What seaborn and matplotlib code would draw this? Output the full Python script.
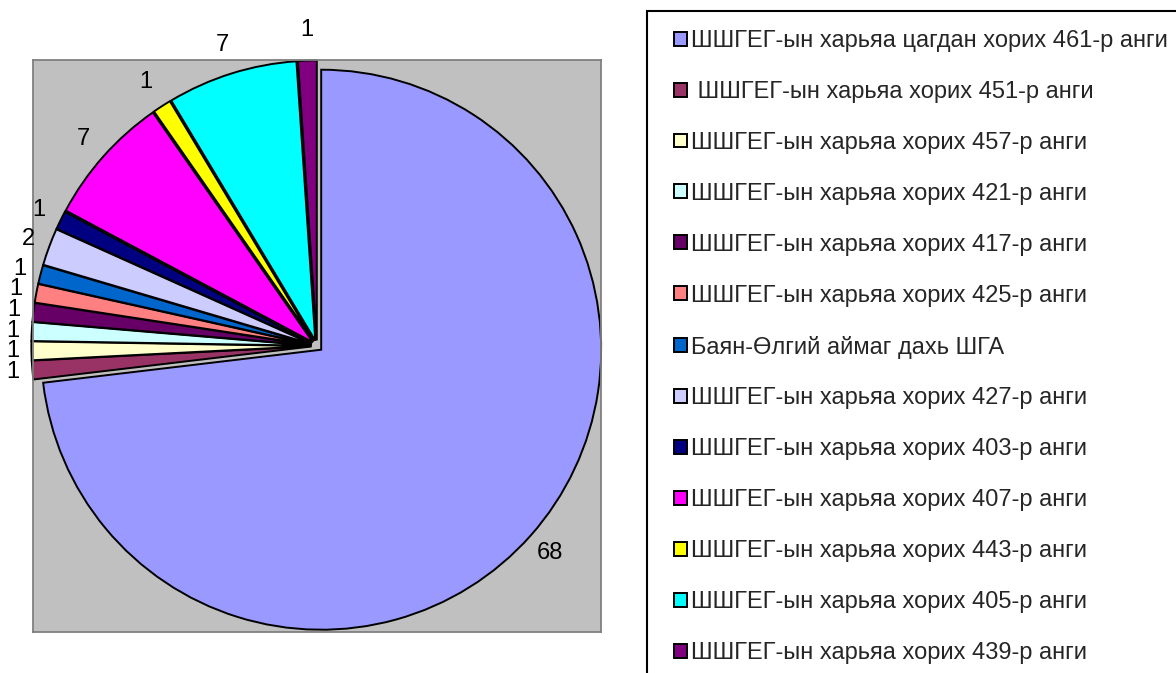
import numpy as np
import pandas as pd
import seaborn as sns
import matplotlib.pyplot as plt
from matplotlib.patches import Rectangle

# Өгөгдөл
labels = [
    "ШШГЕГ-ын харьяа цагдан хорих 461-р анги",
    " ШШГЕГ-ын харьяа хорих 451-р анги",
    "ШШГЕГ-ын харьяа хорих 457-р анги",
    "ШШГЕГ-ын харьяа хорих 421-р анги",
    "ШШГЕГ-ын харьяа хорих 417-р анги",
    "ШШГЕГ-ын харьяа хорих 425-р анги",
    "Баян-Өлгий аймаг дахь ШГА",
    "ШШГЕГ-ын харьяа хорих 427-р анги",
    "ШШГЕГ-ын харьяа хорих 403-р анги",
    "ШШГЕГ-ын харьяа хорих 407-р анги",
    "ШШГЕГ-ын харьяа хорих 443-р анги",
    "ШШГЕГ-ын харьяа хорих 405-р анги",
    "ШШГЕГ-ын харьяа хорих 439-р анги",
]
values = [68, 1, 1, 1, 1, 1, 1, 2, 1, 7, 1, 7, 1]
colors = ["#9999FF", "#993366", "#FFFFCC", "#CCFFFF", "#660066", "#FF8080",
          "#0066CC", "#CCCCFF", "#000080", "#FF00FF", "#FFFF00", "#00FFFF",
          "#800080"]

df = pd.DataFrame({"label": labels, "value": values, "color": colors})

sns.set_theme(style="white")
plt.rcParams["font.family"] = ["Liberation Sans", "DejaVu Sans"]

W, H = 1176, 673
fig = plt.figure(figsize=(W / 100, H / 100), dpi=100)

# Саарал талбай (plot area)
ax = fig.add_axes([33 / W, (H - 632) / H, 568 / W, 572 / H])

wedges, _ = ax.pie(
    df["value"],
    colors=df["color"],
    startangle=90,
    counterclock=False,
    explode=[0.02] * len(df),
    wedgeprops=dict(edgecolor="black", linewidth=1.4, clip_on=False),
)

ax.set_aspect("auto")
ax.set_xlim(-568 / 560, 568 / 560)
ax.set_ylim(-572 / 560, 572 / 560)
ax.set_frame_on(True)
ax.set_facecolor("#C0C0C0")
for s in ax.spines.values():
    s.set_color("#808080")
    s.set_linewidth(1.3)

# Утгын шошго
for w, v in zip(wedges, df["value"]):
    th = np.deg2rad((w.theta1 + w.theta2) / 2)
    r = 1.065 + 0.045 * abs(np.sin(th))
    cx, cy = w.center
    ax.text(cx + r * np.cos(th), cy + r * np.sin(th), str(v),
            ha="center", va="center", fontsize=17, color="black")

# Тайлбар (хүрээ нь зургийн баруун, доод захаас гарна)
fig.patches.append(Rectangle((647 / W, -0.05), 1, 1.05 - 11 / H, transform=fig.transFigure,
                             facecolor="none", edgecolor="black", linewidth=1.5))
fig.legend(
    wedges, df["label"],
    loc="upper left",
    bbox_to_anchor=(674 / W, 1 - 30 / H),
    frameon=False,
    fontsize=17,
    handlelength=0.53,
    handleheight=0.53,
    handletextpad=0.19,
    labelspacing=1.225,
    borderpad=0,
    borderaxespad=0,
)

fig.savefig("out.png", dpi=100)
